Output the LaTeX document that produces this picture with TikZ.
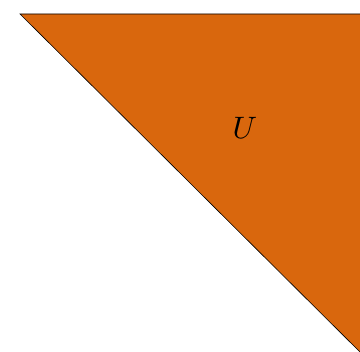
\documentclass[tikz,border=0pt]{standalone}
\usepackage{xcolor}
\usepackage{tikz}
\usetikzlibrary{positioning,calc}
\definecolor{burnt}{RGB}{217,103,13}

\begin{document}
\begin{tikzpicture}[x=1pt,y=-1pt]
    \useasboundingbox (0,0) rectangle (360,352);
    % triangle
    \begin{scope}
      \clip (0,0) rectangle (360,352);
      \fill[burnt] (20,14) -- (364,14) -- (364,356) -- cycle;
      \draw[line width=0.6pt] (20,14) -- (364,14) -- (364,356) -- cycle;
    \end{scope}
    % label
    \node[scale=3.1] (u) at (245,128) {$U$};
  \end{tikzpicture}
\end{document}
